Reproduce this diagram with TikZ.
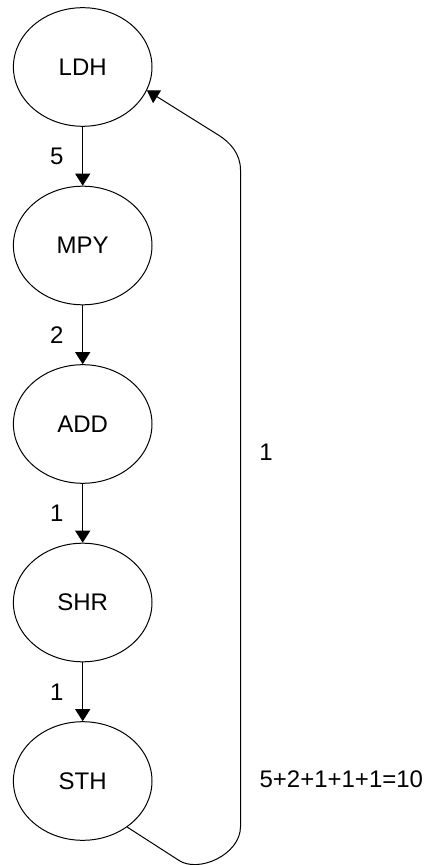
\documentclass[tikz,border=0pt]{standalone}
\usepackage{fontspec}
\setmainfont{Liberation Sans}
\usetikzlibrary{positioning,calc,arrows.meta,shapes.geometric}

\begin{document}
\begin{tikzpicture}[
        font=\fontsize{12}{14}\selectfont,
        node distance=29.45pt, % Расстояние между эллипсами
        op/.style={ellipse, draw, line width=0.5pt, minimum width=69.3pt, minimum height=59.3pt, inner sep=0pt},
        dep/.style={draw, line width=0.5pt, -{Triangle[width=7.5pt,length=6pt]}},
        lat/.style={left=6pt}, % Задержка
    ]
    \useasboundingbox (-41.35pt,33.5pt) rectangle (170.65pt,-399pt);

    \node[op] (ldh) at (0,0) {LDH};
    \node[op, below=of ldh] (mpy) {MPY};
    \node[op, below=of mpy] (add) {ADD};
    \node[op, below=of add] (shr) {SHR};
    \node[op, below=of shr] (sth) {STH};

    \draw[dep] (ldh) -- node[lat] {5} (mpy);
    \draw[dep] (mpy) -- node[lat] {2} (add);
    \draw[dep] (add) -- node[lat] {1} (shr);
    \draw[dep] (shr) -- node[lat] {1} (sth);

    % Обратная дуга
    \coordinate (bot1) at (47.8pt,-396.5pt);
    \coordinate (bot2) at (78.9pt,-379.85pt);
    \coordinate (top1) at (78.9pt,-51.5pt);
    \coordinate (top2) at (67.8pt,-34pt);
    \draw[dep] (sth.-46) -- (bot1) .. controls ($(bot1)+(9.8pt,-6.9pt)$) and ($(bot2)+(0,-14pt)$) .. (bot2)
        -- node[pos=0.57, right=5.9pt] {1} (top1)
        .. controls ($(top1)+(0,8pt)$) and ($(top2)+(6pt,-3.7pt)$) .. (top2) -- (ldh.-20);

    \node[right=50pt of sth, yshift=1pt] (sum) {5+2+1+1+1=10};

\end{tikzpicture}
\end{document}
